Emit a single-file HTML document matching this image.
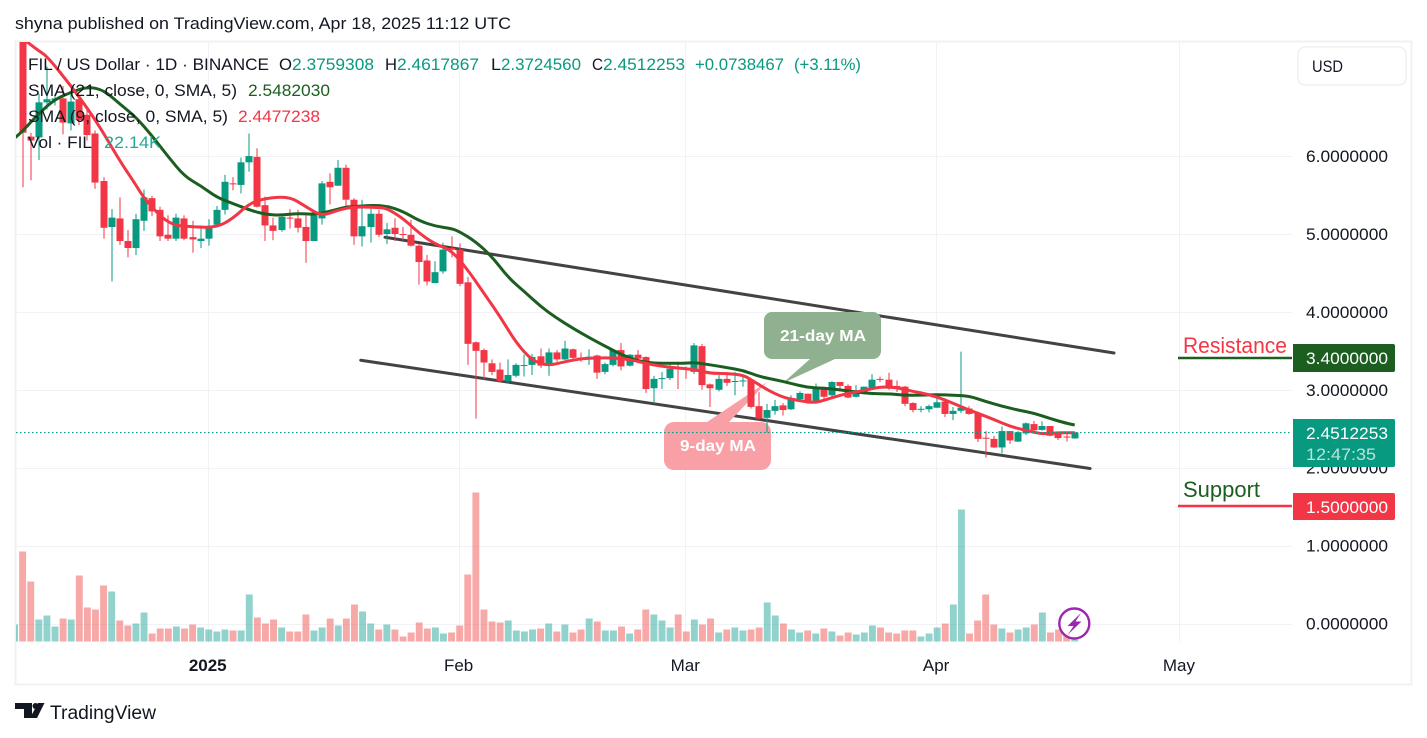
<!DOCTYPE html>
<html lang="en">
<head>
<meta charset="utf-8">
<title>FIL / US Dollar chart</title>
<style>
html,body{margin:0;padding:0;background:#fff;width:1427px;height:738px;overflow:hidden}
svg{display:block;font-family:"Liberation Sans",Arial,sans-serif}
</style>
</head>
<body>
<svg id="chart" xmlns="http://www.w3.org/2000/svg" width="1427" height="738" viewBox="0 0 1427 738">
  <defs>
    <clipPath id="plot-clip"><rect x="16" y="42" width="1276" height="600"/></clipPath>
  </defs>
  <rect x="0" y="0" width="1427" height="738" fill="#fff"/>
  <text x="15" y="29" font-size="17" fill="#131722" textLength="496" lengthAdjust="spacingAndGlyphs">shyna published on TradingView.com, Apr 18, 2025 11:12 UTC</text>
  <rect x="15.5" y="41.5" width="1396" height="643" fill="none" stroke="#f1f1f3" stroke-width="2"/>
  <g id="grid"></g>
  <g id="volume" clip-path="url(#plot-clip)"></g>
  <g id="channel" clip-path="url(#plot-clip)"></g>

  <g>
    <path d="M772 312H873A8 8 0 0 1 881 320V351A8 8 0 0 1 873 359H835L783 383L810 359H772A8 8 0 0 1 764 351V320A8 8 0 0 1 772 312Z" fill="#8fb18f"/>
  </g>
  <g>
    <path d="M674 422H707L767 382L729 422H761A10 10 0 0 1 771 432V460A10 10 0 0 1 761 470H674A10 10 0 0 1 664 460V432A10 10 0 0 1 674 422Z" fill="#f9a0a7"/>
  </g>

  <g id="candles" clip-path="url(#plot-clip)"></g>
  <g id="averages" clip-path="url(#plot-clip)"></g>
  <line id="last-price-line" x1="16" x2="1292" stroke="#089981" stroke-width="1.2" stroke-dasharray="1.5 2.5"/>

  <text x="780" y="341" font-size="16" font-weight="bold" fill="#fff" textLength="86" lengthAdjust="spacingAndGlyphs">21-day MA</text>
  <text x="680" y="451" font-size="16" font-weight="bold" fill="#fff" textLength="76" lengthAdjust="spacingAndGlyphs">9-day MA</text>

  <g id="price-axis"></g>
  <g id="time-axis"></g>

  <g font-size="16.5">
    <text x="28" y="70" fill="#131722" textLength="241" lengthAdjust="spacingAndGlyphs">FIL / US Dollar · 1D · BINANCE</text>
    <text x="279" y="70" fill="#131722" textLength="13" lengthAdjust="spacingAndGlyphs">O</text>
    <text x="292" y="70" fill="#089981" textLength="82" lengthAdjust="spacingAndGlyphs">2.3759308</text>
    <text x="385" y="70" fill="#131722" textLength="12" lengthAdjust="spacingAndGlyphs">H</text>
    <text x="397" y="70" fill="#089981" textLength="82" lengthAdjust="spacingAndGlyphs">2.4617867</text>
    <text x="491" y="70" fill="#131722" textLength="10" lengthAdjust="spacingAndGlyphs">L</text>
    <text x="501" y="70" fill="#089981" textLength="80" lengthAdjust="spacingAndGlyphs">2.3724560</text>
    <text x="592" y="70" fill="#131722" textLength="11" lengthAdjust="spacingAndGlyphs">C</text>
    <text x="603" y="70" fill="#089981" textLength="82" lengthAdjust="spacingAndGlyphs">2.4512253</text>
    <text x="695" y="70" fill="#089981" textLength="89" lengthAdjust="spacingAndGlyphs">+0.0738467</text>
    <text x="794" y="70" fill="#089981" textLength="67" lengthAdjust="spacingAndGlyphs">(+3.11%)</text>
    <text x="28" y="96" fill="#131722" textLength="209" lengthAdjust="spacingAndGlyphs">SMA (21, close, 0, SMA, 5)</text>
    <text x="248" y="96" fill="#1b5e20" textLength="82" lengthAdjust="spacingAndGlyphs">2.5482030</text>
    <text x="28" y="122" fill="#131722" textLength="200" lengthAdjust="spacingAndGlyphs">SMA (9, close, 0, SMA, 5)</text>
    <text x="238" y="122" fill="#f23645" textLength="82" lengthAdjust="spacingAndGlyphs">2.4477238</text>
    <text x="28" y="148" fill="#131722" textLength="64" lengthAdjust="spacingAndGlyphs">Vol · FIL</text>
    <text x="104" y="148" fill="#26a69a" textLength="57" lengthAdjust="spacingAndGlyphs">22.14K</text>
  </g>

  <g>
    <rect x="1298" y="47" width="108" height="38" rx="7" fill="#fff" stroke="#f0f0f3" stroke-width="1.5"/>
    <text x="1312" y="72" font-size="17" fill="#131722" textLength="31" lengthAdjust="spacingAndGlyphs">USD</text>
  </g>

  <g>
    <line x1="1178" x2="1292" y1="358" y2="358" stroke="#1b5e20" stroke-width="2.5"/>
    <text x="1183" y="353" font-size="22" fill="#f23645" textLength="104" lengthAdjust="spacingAndGlyphs">Resistance</text>
    <path d="M1293 344H1393A2 2 0 0 1 1395 346V370A2 2 0 0 1 1393 372H1293Z" fill="#1b5e20"/>
    <text x="1306" y="364" font-size="17" fill="#fff" textLength="82" lengthAdjust="spacingAndGlyphs">3.4000000</text>
  </g>
  <g>
    <path d="M1293 419H1393A2 2 0 0 1 1395 421V465A2 2 0 0 1 1393 467H1293Z" fill="#089981"/>
    <text x="1306" y="439" font-size="17" fill="#fff" textLength="82" lengthAdjust="spacingAndGlyphs">2.4512253</text>
    <text x="1306" y="460" font-size="17" fill="#fff" fill-opacity="0.72" textLength="70" lengthAdjust="spacingAndGlyphs">12:47:35</text>
  </g>
  <g>
    <line x1="1178" x2="1292" y1="506" y2="506" stroke="#f23645" stroke-width="2.5"/>
    <text x="1183" y="497" font-size="22" fill="#1b5e20" textLength="77" lengthAdjust="spacingAndGlyphs">Support</text>
    <path d="M1293 493H1393A2 2 0 0 1 1395 495V518A2 2 0 0 1 1393 520H1293Z" fill="#f23645"/>
    <text x="1306" y="513" font-size="17" fill="#fff" textLength="82" lengthAdjust="spacingAndGlyphs">1.5000000</text>
  </g>

  <g>
    <circle cx="1074.3" cy="623.5" r="15" fill="#fff" fill-opacity="0.75" stroke="#9c27b0" stroke-width="2.4"/>
    <path d="M1081 613L1067.5 626H1073.5L1068 634.5L1081.5 621.5H1075.5Z" fill="#9c27b0"/>
  </g>

  <g>
    <path d="M15 703H32V718H24V709H15Z" fill="#131722"/>
    <circle cx="35.5" cy="706" r="3" fill="#131722"/>
    <path d="M38 703H44.5L37 718H30Z" fill="#131722"/>
    <text x="50" y="719" font-size="19" fill="#131722" textLength="106" lengthAdjust="spacingAndGlyphs">TradingView</text>
  </g>
</svg>

<script>
const opens = [7.70,7.70,6.25,6.24,6.69,6.72,6.74,6.42,6.73,6.53,6.29,5.68,5.09,5.20,4.91,4.82,5.17,5.46,5.31,4.99,4.94,5.20,4.96,4.91,4.94,5.12,5.31,5.65,5.63,5.92,5.99,5.37,5.11,5.05,5.21,5.20,5.09,4.91,5.20,5.67,5.62,5.85,5.44,4.97,5.09,5.26,5.00,5.08,5.00,4.99,4.85,4.66,4.37,4.52,4.82,4.80,4.38,3.61,3.51,3.34,3.26,3.11,3.18,3.31,3.32,3.43,3.31,3.48,3.39,3.52,3.414,3.41,3.44,3.23,3.32,3.51,3.31,3.45,3.42,3.02,3.14,3.15,3.28,3.28,3.23,3.56,3.07,3.00,3.14,3.10,3.11,3.13,2.79,2.64,2.73,2.80,2.75,2.88,2.95,2.83,3.03,2.93,3.10,3.05,2.91,2.97,3.01,3.14,3.13,3.05,3.04,2.83,2.745,2.75,2.77,2.85,2.69,2.73,2.76,2.70,2.385,2.37,2.26,2.47,2.335,2.44,2.56,2.485,2.535,2.45,2.40,2.3759308];
const highs = [7.90,7.75,6.30,6.80,7.15,6.80,6.90,6.80,6.78,6.63,6.33,5.73,5.32,5.47,5.05,5.26,5.57,5.49,5.35,5.24,5.26,5.24,5.17,5.11,5.19,5.36,5.76,5.73,5.98,6.29,6.10,5.48,5.21,5.26,5.32,5.31,5.24,5.28,5.68,5.78,5.95,5.89,5.46,5.44,5.36,5.31,5.14,5.20,5.09,5.18,4.87,4.73,4.65,4.89,4.97,4.88,4.45,3.62,3.53,3.39,3.35,3.39,3.34,3.45,3.46,3.53,3.53,3.51,3.63,3.53,3.48,3.52,3.45,3.35,3.52,3.60,3.46,3.51,3.43,3.18,3.23,3.34,3.34,3.30,3.60,3.59,3.08,3.19,3.19,3.23,3.19,3.14,2.97,2.82,2.87,2.83,2.93,2.98,2.95,3.08,3.04,3.11,3.10,3.07,3.06,3.04,3.20,3.17,3.22,3.12,3.05,2.84,2.79,2.81,2.95,2.89,2.78,3.49,2.79,2.72,2.47,2.41,2.53,2.47,2.47,2.58,2.60,2.595,2.535,2.46,2.45,2.4617867];
const lows = [7.65,5.60,5.69,5.95,6.60,6.65,6.28,6.33,6.40,6.20,5.58,4.94,4.39,4.86,4.70,4.73,5.04,5.23,4.91,4.91,4.91,4.92,4.76,4.82,4.85,5.09,5.25,5.56,5.52,5.80,5.34,4.91,4.92,5.03,5.07,5.02,4.63,4.91,5.12,5.38,5.62,5.35,4.86,4.84,4.89,4.96,4.87,4.91,4.92,4.84,4.35,4.34,4.37,4.49,4.70,4.33,3.32,2.63,3.13,3.19,3.10,3.08,3.16,3.17,3.19,3.28,3.18,3.36,3.38,3.39,3.36,3.32,3.14,3.20,3.30,3.25,3.30,3.34,2.96,2.82,3.01,3.125,3.01,3.14,3.20,3.00,2.78,2.98,3.05,2.93,3.04,2.76,2.61,2.45,2.68,2.67,2.74,2.87,2.82,2.82,2.86,2.91,2.98,2.89,2.90,2.96,3.00,3.10,3.00,2.97,2.79,2.71,2.71,2.71,2.77,2.65,2.61,2.70,2.68,2.33,2.13,2.255,2.185,2.305,2.33,2.42,2.44,2.475,2.405,2.355,2.335,2.3724560];
const closes = [7.80,6.30,6.20,6.69,6.73,6.74,6.43,6.70,6.46,6.27,5.66,5.08,5.21,4.91,4.82,5.19,5.47,5.29,4.97,4.94,5.21,4.94,4.93,4.94,5.10,5.31,5.67,5.64,5.92,6.00,5.35,5.11,5.04,5.22,5.20,5.08,4.91,5.24,5.65,5.60,5.85,5.44,4.97,5.10,5.26,4.99,5.06,5.00,4.99,4.85,4.64,4.39,4.51,4.80,4.80,4.36,3.59,3.50,3.35,3.23,3.11,3.19,3.32,3.318,3.42,3.31,3.48,3.39,3.53,3.41,3.41,3.425,3.22,3.33,3.51,3.30,3.45,3.40,3.01,3.14,3.15,3.27,3.27,3.27,3.57,3.06,3.02,3.14,3.09,3.113,3.12,2.78,2.63,2.74,2.79,2.74,2.89,2.96,2.83,3.04,2.91,3.10,3.05,2.90,2.995,3.04,3.13,3.135,3.015,3.04,2.82,2.74,2.756,2.79,2.84,2.69,2.73,2.77,2.69,2.37,2.38,2.26,2.47,2.35,2.455,2.57,2.48,2.535,2.41,2.38,2.39,2.4512253];
const volumes = [51,270,180,66,78,45,69,66,198,102,96,168,150,63,48,54,87,24,39,39,45,39,51,42,36,30,36,33,33,141,72,54,66,42,30,30,81,33,42,69,48,69,111,90,54,36,51,36,15,27,57,39,42,24,27,48,201,447,96,60,57,63,33,30,36,39,54,30,51,27,36,69,60,33,33,45,24,36,96,81,63,42,81,30,66,51,69,27,36,42,33,36,42,117,78,54,36,27,33,24,39,30,18,27,21,27,48,42,27,24,33,33,15,24,42,54,111,396,24,63,141,51,39,27,36,42,51,87,27,36,24,6];
const ma9Days = [0,1,3,4,7,10,13,15,16,19,22,25,27,29,31,34,36,38,40,42,45,46,48,50,52,54,56,58,60,62,64,66,68,70,72,74,76,78,80,82,84,86,88,90,91,93,95,97,99,101,103,105,107,109,111,113,115,117,119,121,123,125,127,129,131];
const ma9Values = [7.60,7.51,7.35,7.285,6.90,6.47,5.94,5.63,5.46,5.12,5.09,5.085,5.20,5.39,5.46,5.48,5.35,5.23,5.31,5.35,5.34,5.33,5.20,5.01,4.87,4.79,4.54,4.24,3.94,3.60,3.37,3.31,3.36,3.40,3.41,3.41,3.39,3.34,3.30,3.28,3.26,3.21,3.21,3.19,3.13,3.00,2.90,2.86,2.83,2.90,2.955,2.99,3.04,3.03,2.98,2.94,2.87,2.78,2.70,2.62,2.53,2.48,2.43,2.45,2.4477238];
const ma21Days = [0,1,3,5,7,9,11,13,15,17,19,21,23,25,27,29,31,33,35,37,39,41,42,44,46,48,50,52,54,55,57,59,61,63,65,67,69,71,73,75,77,79,81,83,84,86,88,90,92,94,96,98,100,102,104,106,108,110,112,114,116,118,120,122,124,126,128,130,131];
const ma21Values = [6.23,6.32,6.55,6.73,6.82,6.89,6.85,6.67,6.50,6.26,5.99,5.74,5.62,5.47,5.39,5.31,5.25,5.24,5.265,5.25,5.29,5.35,5.35,5.37,5.36,5.29,5.17,5.10,5.07,5.03,4.90,4.71,4.44,4.26,4.07,3.92,3.79,3.67,3.56,3.45,3.37,3.34,3.34,3.34,3.35,3.32,3.285,3.25,3.17,3.13,3.08,3.03,3.02,3.00,2.97,2.95,2.95,2.93,2.93,2.94,2.93,2.92,2.85,2.79,2.74,2.70,2.63,2.57,2.5482030];
const channelUpperDays = [45.78,135.86];
const channelUpperPrices = [4.958,3.472];
const channelLowerDays = [42.78,132.9];
const channelLowerPrices = [3.379,1.99];
const priceTicks = [0,1,2,3,4,5,6];
const timeTickDays = [24,55,83,114,144];
const timeTickLabels = ['2025','Feb','Mar','Apr','May'];
const lastPrice = 2.4512253;

const NS = 'http://www.w3.org/2000/svg';
function xOf(day){ return 14.5 + 8.093 * day; }
function yOf(price){ return 623.5 - 77.9 * price; }
function volH(v){ return v / 3; }
const VOL_BASE = 641.5;
const GREEN = '#089981', RED = '#f23645';
function pathOf(days, vals){
  let d = '';
  for (let i = 0; i < days.length; i++) {
    const x = xOf(days[i]), y = yOf(vals[i]);
    if (i === 0) { d = 'M' + x.toFixed(1) + ' ' + y.toFixed(1); continue; }
    const x0 = xOf(days[i-1]), y0 = yOf(vals[i-1]);
    const mx = (x0 + x) / 2;
    d += 'Q' + x0.toFixed(1) + ' ' + y0.toFixed(1) + ' ' + mx.toFixed(1) + ' ' + ((y0 + y) / 2).toFixed(1);
    if (i === days.length - 1) d += 'L' + x.toFixed(1) + ' ' + y.toFixed(1);
  }
  return d;
}

const grid = document.getElementById('grid');
priceTicks.forEach(function(p){
  const l = document.createElementNS(NS, 'line');
  
  
  const y = Math.round(yOf(p)) + 0.5;
  l.setAttribute('x1', 16); l.setAttribute('x2', 1292);
  l.setAttribute('y1', y); l.setAttribute('y2', y);
  l.setAttribute('stroke', '#f1f2f5'); l.setAttribute('stroke-width', 1);
  grid.appendChild(l);
});
timeTickDays.forEach(function(d){
  const l = document.createElementNS(NS, 'line');
  
  
  const x = Math.round(xOf(d)) - 0.5;
  l.setAttribute('x1', x); l.setAttribute('x2', x);
  l.setAttribute('y1', 42); l.setAttribute('y2', 643);
  l.setAttribute('stroke', '#f1f2f5'); l.setAttribute('stroke-width', 1);
  grid.appendChild(l);
});

const volG = document.getElementById('volume');
volumes.forEach(function(v, i){
  const r = document.createElementNS(NS, 'rect');
  
  
  const h = volH(v);
  r.setAttribute('x', (xOf(i) - 3.4).toFixed(2));
  r.setAttribute('y', (VOL_BASE - h).toFixed(2));
  r.setAttribute('width', 6.9);
  r.setAttribute('height', h.toFixed(2));
  r.setAttribute('fill', closes[i] >= opens[i] ? 'rgba(38,166,154,.5)' : 'rgba(239,83,80,.5)');
  volG.appendChild(r);
});

const chanG = document.getElementById('channel');
[[channelUpperDays, channelUpperPrices],[channelLowerDays, channelLowerPrices]].forEach(function(c){
  const l = document.createElementNS(NS, 'line');
  
  
  l.setAttribute('x1', xOf(c[0][0])); l.setAttribute('y1', yOf(c[1][0]));
  l.setAttribute('x2', xOf(c[0][1])); l.setAttribute('y2', yOf(c[1][1]));
  l.setAttribute('stroke', '#434343'); l.setAttribute('stroke-width', 3);
  l.setAttribute('stroke-linecap', 'round');
  chanG.appendChild(l);
});

const candG = document.getElementById('candles');
opens.forEach(function(o, i){
  const up = closes[i] >= o;
  const col = up ? GREEN : RED;
  const cx = Math.round(xOf(i));
  const wick = document.createElementNS(NS, 'rect');
  
  
  wick.setAttribute('x', cx - 0.5);
  wick.setAttribute('y', yOf(highs[i]).toFixed(2));
  wick.setAttribute('width', 1);
  wick.setAttribute('height', (yOf(lows[i]) - yOf(highs[i])).toFixed(2));
  wick.setAttribute('fill', col);
  candG.appendChild(wick);
  const body = document.createElementNS(NS, 'rect');
  
  
  const top = yOf(Math.max(o, closes[i]));
  const bh = Math.max(1, Math.abs(yOf(o) - yOf(closes[i])));
  body.setAttribute('x', cx - 3.5);
  body.setAttribute('y', top.toFixed(2));
  body.setAttribute('width', 7);
  body.setAttribute('height', bh.toFixed(2));
  body.setAttribute('fill', col);
  candG.appendChild(body);
});

const avgG = document.getElementById('averages');
const ma21Line = document.createElementNS(NS, 'path');


ma21Line.setAttribute('d', pathOf(ma21Days, ma21Values));
ma21Line.setAttribute('fill', 'none');
ma21Line.setAttribute('stroke', '#1b5e20');
ma21Line.setAttribute('stroke-width', 3);
ma21Line.setAttribute('stroke-linejoin', 'round');
avgG.appendChild(ma21Line);
const ma9Line = document.createElementNS(NS, 'path');


ma9Line.setAttribute('d', pathOf(ma9Days, ma9Values));
ma9Line.setAttribute('fill', 'none');
ma9Line.setAttribute('stroke', '#f23645');
ma9Line.setAttribute('stroke-width', 3);
ma9Line.setAttribute('stroke-linejoin', 'round');
avgG.appendChild(ma9Line);

const lp = document.getElementById('last-price-line');
lp.setAttribute('y1', yOf(lastPrice));
lp.setAttribute('y2', yOf(lastPrice));

const pAxis = document.getElementById('price-axis');
priceTicks.forEach(function(p){
  const t = document.createElementNS(NS, 'text');
  
  
  t.setAttribute('x', 1306);
  t.setAttribute('y', yOf(p) + 6);
  t.setAttribute('font-size', 17);
  t.setAttribute('fill', '#131722');
  t.setAttribute('textLength', 82);
  t.setAttribute('lengthAdjust', 'spacingAndGlyphs');
  t.textContent = p.toFixed(7);
  pAxis.appendChild(t);
});

const tAxis = document.getElementById('time-axis');
timeTickLabels.forEach(function(lbl, i){
  const t = document.createElementNS(NS, 'text');
  
  
  t.setAttribute('x', xOf(timeTickDays[i]) - 1);
  t.setAttribute('y', 671);
  t.setAttribute('font-size', 17);
  t.setAttribute('text-anchor', 'middle');
  t.setAttribute('fill', '#131722');
  if (lbl === '2025') t.setAttribute('font-weight', 'bold');
  t.textContent = lbl;
  tAxis.appendChild(t);
});
</script>
</body>
</html>
